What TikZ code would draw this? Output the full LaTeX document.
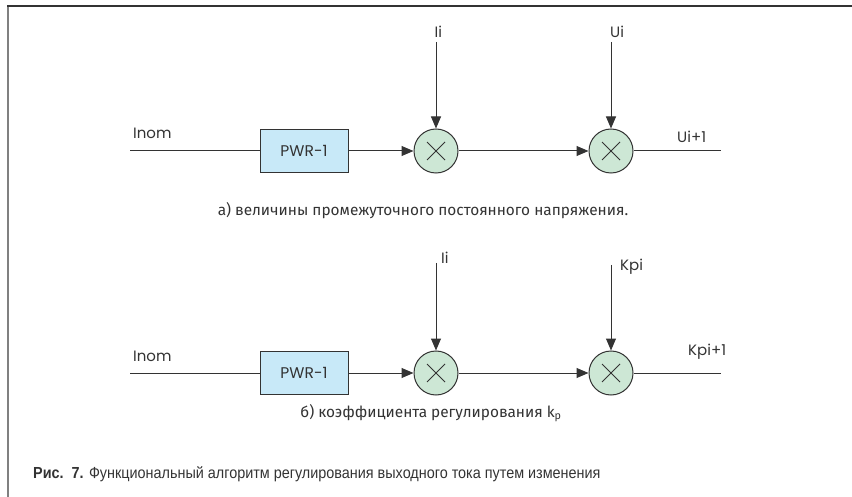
\documentclass[tikz,border=0pt]{standalone}
\usepackage{fontspec}
\setmainfont{Fira Sans}
\newfontfamily\lblfont{Poppins}
\newfontfamily\capfont[FakeStretch=0.9]{Liberation Sans}
\usetikzlibrary{arrows.meta}
\definecolor{linec}{HTML}{333333}
\definecolor{boxfill}{HTML}{C8E9F8}
\definecolor{multfill}{HTML}{CDE7D5}
\tikzset{
  conn/.style={draw=linec, line width=1pt},
  arr/.style={conn, -{Triangle[length=12pt,width=10pt]}},
  pwr/.style={draw=linec, line width=1pt, fill=boxfill, minimum width=88pt, minimum height=43pt, inner sep=0pt, font=\lblfont\fontsize{15.5}{15.5}\selectfont, text=linec},
  mult/.style={circle, draw=linec, line width=1pt, fill=multfill, minimum size=44pt, inner sep=0pt,
    path picture={\draw[linec, line width=0.8pt]
      ([xshift=-9pt,yshift=-9pt]path picture bounding box.center) -- ([xshift=9pt,yshift=9pt]path picture bounding box.center)
      ([xshift=-9pt,yshift=9pt]path picture bounding box.center) -- ([xshift=9pt,yshift=-9pt]path picture bounding box.center);}},
  lbl/.style={anchor=base west, inner sep=0pt, font=\lblfont\fontsize{15}{15}\selectfont, text=linec},
  sub/.style={anchor=base, inner sep=0pt, font=\fontsize{15.4}{15.4}\selectfont, text=linec},
  figcap/.style={anchor=base west, inner sep=0pt, font=\capfont\fontsize{16}{16}\selectfont, text=linec}
}
\begin{document}
\begin{tikzpicture}[x=1pt,y=-1pt]
\useasboundingbox (0,0) rectangle (852,497);
% frame
\draw[color=black!50, line width=2pt] (8,497) -- (8,5.5);
\draw[color=linec, line width=1.2pt] (7,6) -- (852,6);

% ---- diagram a ----
\coordinate (in1) at (130,151);
\node[pwr] (b1) at (304,151) {PWR-1};
\node[mult] (m1) at (436,151) {};
\node[mult] (m2) at (611,151) {};
\coordinate (out1) at (721,151);
\coordinate (t1) at (436,42);
\coordinate (t2) at (611,42);
\draw[conn] (in1) -- (b1);
\draw[arr] (b1) -- (m1);
\draw[arr] (m1) -- (m2);
\draw[conn] (m2) -- (out1);
\draw[arr] (t1) -- (m1);
\draw[arr] (t2) -- (m2);
\node[lbl] (la1) at (133,139) {Inom};
\node[lbl] (la2) at (434.5,38) {Ii};
\node[lbl] (la3) at (610,38) {Ui};
\node[lbl] (la4) at (677,143) {Ui+1};
\node[sub] (capa) at (423,216) {а) величины промежуточного постоянного напряжения.};

% ---- diagram b ----
\coordinate (in2) at (130,373);
\node[pwr] (b2) at (304,373) {PWR-1};
\node[mult] (m3) at (436,373) {};
\node[mult] (m4) at (611,373) {};
\coordinate (out2) at (721,373);
\coordinate (t3) at (436,263);
\coordinate (t4) at (611,265);
\draw[conn] (in2) -- (b2);
\draw[arr] (b2) -- (m3);
\draw[arr] (m3) -- (m4);
\draw[conn] (m4) -- (out2);
\draw[arr] (t3) -- (m3);
\draw[arr] (t4) -- (m4);
\node[lbl] (lb1) at (133,361.5) {Inom};
\node[lbl] (lb2) at (441,264) {Ii};
\node[lbl] (lb3) at (620,271) {Kpi};
\node[lbl] (lb4) at (688,355) {Kpi+1};
\node[sub] (capb) at (431,417) {б) коэффициента регулирования k\textsubscript{p}};

% ---- figure caption ----
\node[figcap] (fig) at (33,478) {\textbf{Рис.\ \ 7.} Функциональный алгоритм регулирования выходного тока путем изменения};
\end{tikzpicture}
\end{document}
